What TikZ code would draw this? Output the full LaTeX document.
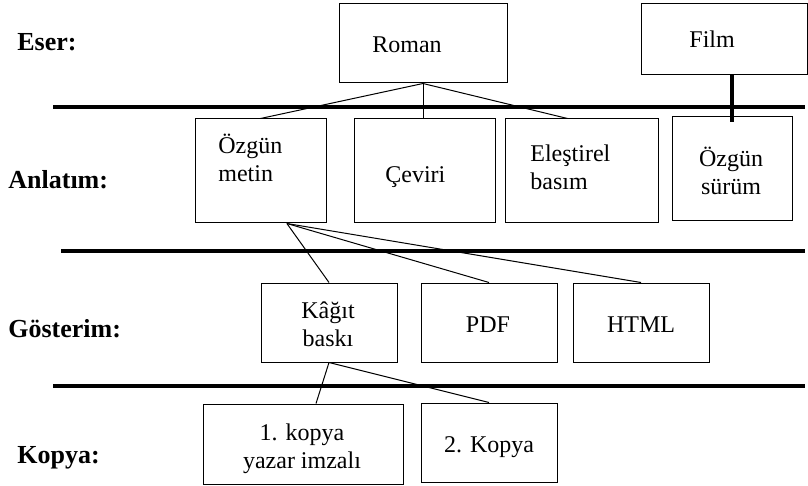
\documentclass[tikz,border=0pt]{standalone}
\usepackage{fontspec}
\setmainfont{Liberation Serif}
\usetikzlibrary{calc}
\begin{document}
\begin{tikzpicture}[x=0.5pt,y=-0.5pt,
    kutu/.style={draw,line width=0.5pt,inner sep=0pt},
    yazi/.style={font=\fontsize{12}{14}\selectfont,inner sep=0pt},
    baslik/.style={font=\fontsize{13}{15}\selectfont\bfseries,inner sep=0pt,anchor=base west},
    cizgi/.style={line width=1.6pt},
    bag/.style={line width=0.5pt}]
    \useasboundingbox(0,0)rectangle(808,486);
    % katman adlari
    \node[baslik](eser)at(17,51){Eser:};
    \node[baslik](anlatim)at(8,189){Anlatım:};
    \node[baslik](gosterim)at(8,337){Gösterim:};
    \node[baslik](kopya)at(17,463){Kopya:};
    % ayirici cizgiler
    \draw[cizgi](53,107)--(805,107);
    \draw[cizgi](61,251)--(805,251);
    \draw[cizgi](53,386)--(805,386);
    % kutular
    \node[kutu,minimum width=84pt,minimum height=39.5pt](roman)at(423,43.5){};
    \node[kutu,minimum width=83pt,minimum height=35.5pt](film)at(724,39.5){};
    \node[kutu,minimum width=65.5pt,minimum height=52pt](metin)at(260.5,171){};
    \node[kutu,minimum width=70.5pt,minimum height=52pt](ceviri)at(424.5,171){};
    \node[kutu,minimum width=76.5pt,minimum height=52pt](elestirel)at(581.5,171){};
    \node[kutu,minimum width=60pt,minimum height=52pt](surum)at(732,169){};
    \node[kutu,minimum width=68pt,minimum height=39.5pt](kagit)at(329,322.5){};
    \node[kutu,minimum width=68pt,minimum height=39.5pt](pdf)at(489,322.5){};
    \node[kutu,minimum width=68pt,minimum height=39.5pt](html)at(641,322.5){};
    \node[kutu,minimum width=100pt,minimum height=40pt](kopya1)at(303,444){};
    \node[kutu,minimum width=68pt,minimum height=39.5pt](kopya2)at(489,442.5){};
    % yazilar (cok satirlilarda son satirin tabani)
    \node[yazi,anchor=base west](romant)at(372,52.5){Roman};
    \node[yazi,anchor=base west](filmt)at(689,48){Film};
    \node[yazi,anchor=base west,align=left](metint)at(218,182){Özgün\\metin};
    \node[yazi,anchor=base west](cevirit)at(385,183){Çeviri};
    \node[yazi,anchor=base west,align=left](elestirelt)at(530,190){Eleştirel\\basım};
    \node[yazi,anchor=base,align=center](surumt)at(731,195){Özgün\\sürüm};
    \node[yazi,anchor=base,align=center](kagitt)at(328,346){Kâğıt\\baskı};
    \node[yazi,anchor=base](pdft)at(488,332){PDF};
    \node[yazi,anchor=base](htmlt)at(641,332){HTML};
    \node[yazi,anchor=base,align=center](kopya1t)at(302,468){1. kopya\\yazar imzalı};
    \node[yazi,anchor=base](kopya2t)at(489,452){2. Kopya};
    % baglar
    \draw[bag](roman.south)--(metin.north);
    \draw[bag](roman.south)--(roman.south|-ceviri.north);
    \draw[bag](roman.south)--([xshift=-7pt]elestirel.north);
    \coordinate(m)at($(metin.south west)!0.7!(metin.south east)$);
    \draw[bag](m)--(kagit.north);
    \draw[bag](m)--(pdf.north);
    \draw[bag](m)--(html.north);
    \draw[bag](kagit.south)--([xshift=6.5pt]kopya1.north);
    \draw[bag](kagit.south)--(kopya2.north);
    \draw[line width=2pt](surum.north|-film.south)--([yshift=-3pt]surum.north);
\end{tikzpicture}
\end{document}
